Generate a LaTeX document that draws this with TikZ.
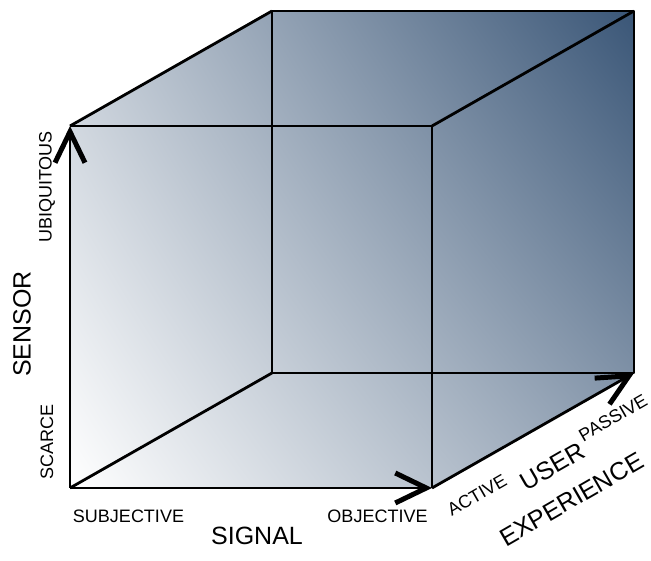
\documentclass[tikz,border=0pt]{standalone}
\usepackage{fontspec}
\setmainfont{Liberation Sans}
\usetikzlibrary{arrows.meta,shadings}
\definecolor{cubedark}{HTML}{3A5677}
\tikzset{
  edge/.style={draw=black,line width=2.8pt,line join=round},
  axis/.style={edge,-{Straight Barb[length=31pt,width=30pt,line width=5pt]}},
  tick/.style={font=\fontsize{18}{20}\selectfont,inner sep=0pt},
  axislbl/.style={font=\fontsize{25}{38}\selectfont,inner sep=0pt,align=center},
}

\begin{document}
\begin{tikzpicture}[x=1pt,y=1pt]
  \useasboundingbox (0,0) rectangle (651,561);

  % cube corners: front face, then back face
  \coordinate (fbl) at (70,73);
  \coordinate (ftl) at (70,435);
  \coordinate (fbr) at (432,73);
  \coordinate (ftr) at (432,435);
  \coordinate (bbl) at (272,188);
  \coordinate (btl) at (272,550);
  \coordinate (bbr) at (634,188);
  \coordinate (btr) at (634,550);

  \shade[lower left=white,upper left=cubedark!30!white,
         lower right=cubedark!55!white,upper right=cubedark]
    (fbl) -- (ftl) -- (btl) -- (btr) -- (bbr) -- (fbr) -- cycle;

  \draw[edge] (bbl) -- (btl) -- (btr) -- (bbr) -- cycle;
  \draw[edge] (fbl) -- (bbl);
  \draw[edge] (ftl) -- (btl);
  \draw[edge] (ftr) -- (btr);
  \draw[edge] (ftl) -- (ftr) -- (fbr);

  % the three axes
  \draw[axis] (fbl) -- (ftl);
  \draw[axis] (fbl) -- (fbr);
  \draw[axis] (fbr) -- (bbr);

  \node[tick] (subj) at (128.5,45) {SUBJECTIVE};
  \node[tick] (obj) at (377.5,45) {OBJECTIVE};
  \node[axislbl] (signal) at (257,25) {SIGNAL};

  \node[tick,rotate=90] (scarce) at (47,119) {SCARCE};
  \node[tick,rotate=90] (ubiq) at (47,374) {UBIQUITOUS};
  \node[axislbl,rotate=90] (sensor) at (22,237) {SENSOR};

  \node[tick,rotate=30] (active) at (477,66) {ACTIVE};
  \node[tick,rotate=30] (passive) at (613,143) {PASSIVE};
  \node[axislbl,rotate=30] (ux) at (562,78) {USER\\EXPERIENCE};
\end{tikzpicture}
\end{document}
